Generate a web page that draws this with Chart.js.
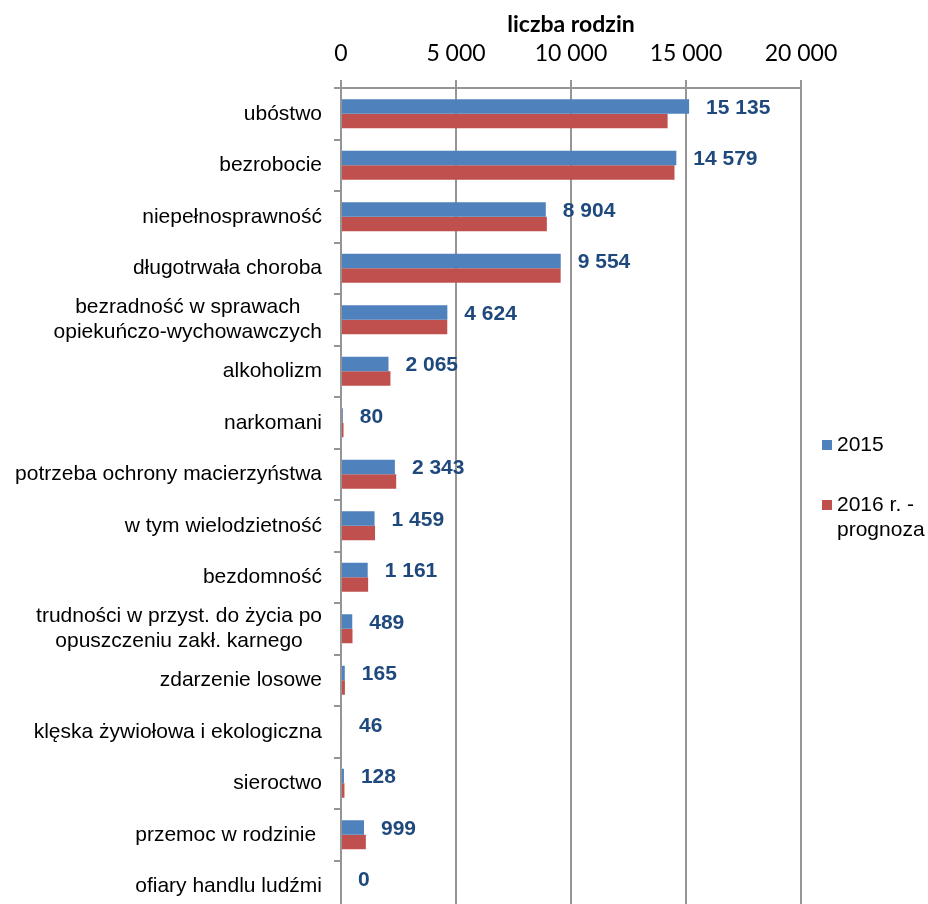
<!DOCTYPE html>
<html>
<head>
<meta charset="utf-8">
<script src="https://cdn.jsdelivr.net/npm/chart.js@4"></script>
<style>
  html, body { margin: 0; padding: 0; background: #fff; overflow: hidden; }
  canvas { display: block; }
</style>
</head>
<body>
<canvas id="chart" width="928" height="920"></canvas>
<script>
"use strict";

const categories = [
  "ubóstwo",
  "bezrobocie",
  "niepełnosprawność",
  "długotrwała choroba",
  "bezradność w sprawach\nopiekuńczo-wychowawczych",
  "alkoholizm",
  "narkomani",
  "potrzeba ochrony macierzyństwa",
  "w tym wielodzietność",
  "bezdomność",
  "trudności w przyst. do życia po\nopuszczeniu zakł. karnego",
  "zdarzenie losowe",
  "klęska żywiołowa i ekologiczna",
  "sieroctwo",
  "przemoc w rodzinie ",
  "ofiary handlu ludźmi"
];
const values2015 = [15135, 14579, 8904, 9554, 4624, 2065, 80, 2343, 1459, 1161, 489, 165, 46, 128, 999, 0];
const values2016 = [14200, 14500, 8950, 9550, 4620, 2150, 110, 2400, 1480, 1180, 500, 170, 40, 150, 1080, 0];
const seriesNames = ["2015", "2016 r. -\nprognoza"];
const xTickValues = [0, 5000, 10000, 15000, 20000];

const gridColor = "#959595";
const labelFont = "Liberation Sans, Arial, sans-serif";

function fmt(n) {
  return String(n).replace(/\B(?=(\d{3})+(?!\d))/g, " ");
}

// category labels: right aligned block, lines centered inside it (like Excel)
const categoryLabels = {
  id: "categoryLabels",
  afterDraw(chart) {
    const ctx = chart.ctx;
    const y = chart.scales.y;
    ctx.save();
    ctx.font = "21px " + labelFont;
    ctx.fillStyle = "#000";
    ctx.textBaseline = "middle";
    ctx.textAlign = "center";
    const right = 322, lh = 25;
    categories.forEach((label, i) => {
      const lines = label.split("\n");
      const w = Math.max(...lines.map(l => ctx.measureText(l).width));
      const cy = y.getPixelForValue(i);
      lines.forEach((l, k) => {
        ctx.fillText(l, right - w / 2, cy + (k - (lines.length - 1) / 2) * lh);
      });
    });
    ctx.restore();
  }
};

// value labels after the 2015 bars
const valueLabels = {
  id: "valueLabels",
  afterDatasetsDraw(chart) {
    const ctx = chart.ctx;
    const meta = chart.getDatasetMeta(0);
    ctx.save();
    ctx.font = "bold 21px " + labelFont;
    ctx.fillStyle = "#1F497D";
    ctx.textBaseline = "middle";
    ctx.textAlign = "left";
    meta.data.forEach((bar, i) => {
      ctx.fillText(fmt(values2015[i]), bar.x + 17, bar.y + 1.5);
    });
    ctx.restore();
  }
};

// legend on the right
const sideLegend = {
  id: "sideLegend",
  afterDraw(chart) {
    const ctx = chart.ctx;
    const rows = [445, 505];
    ctx.save();
    ctx.font = "21px " + labelFont;
    ctx.textBaseline = "middle";
    ctx.textAlign = "left";
    chart.data.datasets.forEach((ds, i) => {
      ctx.fillStyle = ds.backgroundColor;
      ctx.fillRect(822, rows[i] - 5, 10, 10);
      ctx.fillStyle = "#000";
      ds.label.split("\n").forEach((l, k) => {
        ctx.fillText(l, 837, rows[i] + k * 25);
      });
    });
    ctx.restore();
  }
};

new Chart(document.getElementById("chart"), {
  type: "bar",
  data: {
    labels: categories,
    datasets: [
      {label: seriesNames[0], data: values2015, backgroundColor: "#4F81BD", borderWidth: 0},
      {label: seriesNames[1], data: values2016, backgroundColor: "#C0504D", borderWidth: 0}
    ]
  },
  options: {
    indexAxis: "y",
    responsive: false,
    animation: false,
    devicePixelRatio: 1,
    categoryPercentage: 0.563,
    barPercentage: 1,
    layout: {padding: {left: 0, right: 127, top: 0, bottom: 8}},
    scales: {
      x: {
        position: "top",
        min: xTickValues[0],
        max: xTickValues[xTickValues.length - 1],
        afterBuildTicks: (scale) => {
          scale.ticks = xTickValues.map(v => ({value: v}));
        },
        afterFit: (scale) => { scale.height = 88; },
        grid: {color: gridColor, lineWidth: 2, tickLength: 8, drawOnChartArea: true},
        border: {color: gridColor, width: 2},
        ticks: {
          padding: 13,
          color: "#000",
          font: {family: "Lato", size: 23},
          callback: (v) => fmt(v)
        },
        title: {
          display: true,
          text: "liczba rodzin",
          color: "#000",
          font: {family: "Lato", size: 23, weight: "bold"},
          padding: {top: 11, bottom: 0}
        }
      },
      y: {
        afterFit: (scale) => { scale.width = 341; },
        grid: {color: gridColor, lineWidth: 2, tickLength: 7, drawOnChartArea: false, offset: true},
        border: {color: gridColor, width: 2},
        ticks: {display: false}
      }
    },
    plugins: {
      legend: {display: false},
      tooltip: {enabled: false}
    }
  },
  plugins: [categoryLabels, valueLabels, sideLegend]
});
</script>
</body>
</html>
